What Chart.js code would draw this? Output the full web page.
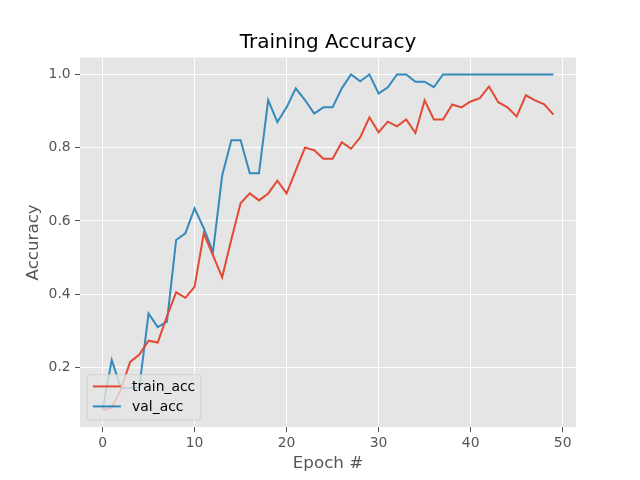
<!DOCTYPE html>
<html lang="en">
<head>
    <meta charset="UTF-8">
    <title>Training Accuracy</title>
    <script src="https://cdn.jsdelivr.net/npm/chart.js"></script>
    <style>
        body {
            margin: 0;
            background: #ffffff;
        }
        canvas {
            display: block;
        }
    </style>
</head>
<body>
<canvas id="accChart" width="640" height="480"></canvas>

<script>
    // Dados
    const epochs = [];
    for (let i = 0; i < 50; i++) epochs.push(i);

    const trainAcc = [0.083, 0.09, 0.14, 0.215, 0.235, 0.273, 0.268, 0.34, 0.405, 0.39,
                      0.42, 0.566, 0.506, 0.446, 0.55, 0.648, 0.675, 0.656, 0.675, 0.71,
                      0.675, 0.738, 0.80, 0.793, 0.77, 0.77, 0.815, 0.797, 0.828, 0.883,
                      0.842, 0.871, 0.858, 0.877, 0.84, 0.929, 0.877, 0.877, 0.918, 0.91,
                      0.926, 0.935, 0.967, 0.924, 0.91, 0.885, 0.943, 0.929, 0.918, 0.89];

    const valAcc = [0.085, 0.22, 0.144, 0.144, 0.146, 0.347, 0.31, 0.325, 0.548, 0.566,
                    0.634, 0.58, 0.515, 0.724, 0.82, 0.82, 0.73, 0.73, 0.93, 0.87,
                    0.91, 0.962, 0.93, 0.893, 0.91, 0.91, 0.962, 1.0, 0.981, 1.0,
                    0.948, 0.965, 1.0, 1.0, 0.98, 0.98, 0.965, 1.0, 1.0, 1.0,
                    1.0, 1.0, 1.0, 1.0, 1.0, 1.0, 1.0, 1.0, 1.0, 1.0];

    const xTicks = [0, 10, 20, 30, 40, 50];
    const xTickLabels = ['0', '10', '20', '30', '40', '50'];
    const yTicks = [0.2, 0.4, 0.6, 0.8, 1.0];
    const yTickLabels = ['0.2', '0.4', '0.6', '0.8', '1.0'];

    const seriesNames = ['train_acc', 'val_acc'];
    const chartTitle = 'Training Accuracy';

    const FONT = "'DejaVu Sans', sans-serif";

    // fundo cinza da área do gráfico
    const backgroundPlugin = {
        id: 'ggBackground',
        beforeDraw(chart) {
            const {ctx, chartArea} = chart;
            ctx.save();
            ctx.fillStyle = '#ffffff';
            ctx.fillRect(0, 0, chart.width, chart.height);
            ctx.fillStyle = '#e5e5e5';
            ctx.fillRect(chartArea.left, chartArea.top,
                chartArea.right - chartArea.left, chartArea.bottom - chartArea.top);
            ctx.restore();
        }
    };

    // título centrado sobre a área do gráfico (como no matplotlib)
    const axesTitle = {
        id: 'axesTitle',
        afterDraw(chart) {
            const {ctx, chartArea} = chart;
            ctx.save();
            ctx.font = '20px ' + FONT;
            ctx.fillStyle = '#000000';
            ctx.textAlign = 'center';
            ctx.textBaseline = 'middle';
            ctx.fillText(chartTitle, (chartArea.left + chartArea.right) / 2, chartArea.top - 14.7);
            ctx.restore();
        }
    };

    // legenda dentro do gráfico, canto inferior esquerdo
    const insideLegend = {
        id: 'insideLegend',
        afterDraw(chart) {
            const {ctx, chartArea} = chart;
            const sets = chart.data.datasets;
            ctx.save();
            ctx.font = '13.9px ' + FONT;
            let maxW = 0;
            sets.forEach(ds => { maxW = Math.max(maxW, ctx.measureText(ds.label).width); });

            const x0 = chartArea.left + 7.3;
            const w = 5.6 + 28 + 11.2 + maxW + 5.6;
            const h = 45.5;
            const y0 = chartArea.bottom - 7 - h;

            ctx.beginPath();
            ctx.roundRect(x0, y0, w, h, 3);
            ctx.fillStyle = 'rgba(229,229,229,0.8)';
            ctx.fill();
            ctx.strokeStyle = 'rgba(204,204,204,0.8)';
            ctx.lineWidth = 1;
            ctx.stroke();

            sets.forEach((ds, i) => {
                const yy = y0 + 11.7 + i * 20;
                ctx.beginPath();
                ctx.moveTo(x0 + 5.6, yy);
                ctx.lineTo(x0 + 33.6, yy);
                ctx.strokeStyle = ds.borderColor;
                ctx.lineWidth = 2;
                ctx.stroke();
                ctx.fillStyle = '#000000';
                ctx.textBaseline = 'middle';
                ctx.textAlign = 'left';
                ctx.fillText(ds.label, x0 + 44.8, yy + 0.5);
            });
            ctx.restore();
        }
    };

    const ctx = document.getElementById('accChart').getContext('2d');
    new Chart(ctx, {
        type: 'line',
        data: {
            datasets: [{
                label: seriesNames[0],
                data: epochs.map((e, i) => ({x: e, y: trainAcc[i]})),
                borderColor: '#E24A33',
                borderWidth: 2,
                pointRadius: 0,
                tension: 0,
                fill: false
            }, {
                label: seriesNames[1],
                data: epochs.map((e, i) => ({x: e, y: valAcc[i]})),
                borderColor: '#348ABD',
                borderWidth: 2,
                pointRadius: 0,
                tension: 0,
                fill: false
            }]
        },
        options: {
            responsive: false,
            animation: false,
            layout: {
                padding: {left: 0, right: 64, top: 57.6, bottom: 0}
            },
            plugins: {
                legend: {display: false},
                tooltip: {enabled: false},
                title: {display: false}
            },
            scales: {
                x: {
                    type: 'linear',
                    min: -2.45,
                    max: 51.45,
                    afterFit(scale) { scale.height = 52.8; },
                    afterBuildTicks(scale) { scale.ticks = xTicks.map(v => ({value: v})); },
                    ticks: {
                        color: '#555555',
                        font: {family: FONT, size: 13.9},
                        padding: 3,
                        maxRotation: 0,
                        callback: (value, index) => xTickLabels[index]
                    },
                    grid: {
                        color: '#ffffff',
                        lineWidth: 1,
                        drawTicks: true,
                        tickLength: 5,
                        tickColor: '#555555',
                        tickWidth: 1
                    },
                    border: {display: false},
                    title: {
                        display: true,
                        text: 'Epoch #',
                        color: '#555555',
                        font: {family: FONT, size: 16.7},
                        padding: {top: 0, bottom: 5.9}
                    }
                },
                y: {
                    type: 'linear',
                    min: 0.0367,
                    max: 1.0459,
                    afterFit(scale) { scale.width = 80; },
                    afterBuildTicks(scale) { scale.ticks = yTicks.map(v => ({value: v})); },
                    ticks: {
                        color: '#555555',
                        font: {family: FONT, size: 13.9},
                        padding: 4.3,
                        callback: (value, index) => yTickLabels[index]
                    },
                    grid: {
                        color: '#ffffff',
                        lineWidth: 1,
                        drawTicks: true,
                        tickLength: 5,
                        tickColor: '#555555',
                        tickWidth: 1
                    },
                    border: {display: false},
                    title: {
                        display: true,
                        text: 'Accuracy',
                        color: '#555555',
                        font: {family: FONT, size: 16.7},
                        padding: {top: 23.2, bottom: 0}
                    }
                }
            }
        },
        plugins: [backgroundPlugin, axesTitle, insideLegend]
    });
</script>
</body>
</html>
